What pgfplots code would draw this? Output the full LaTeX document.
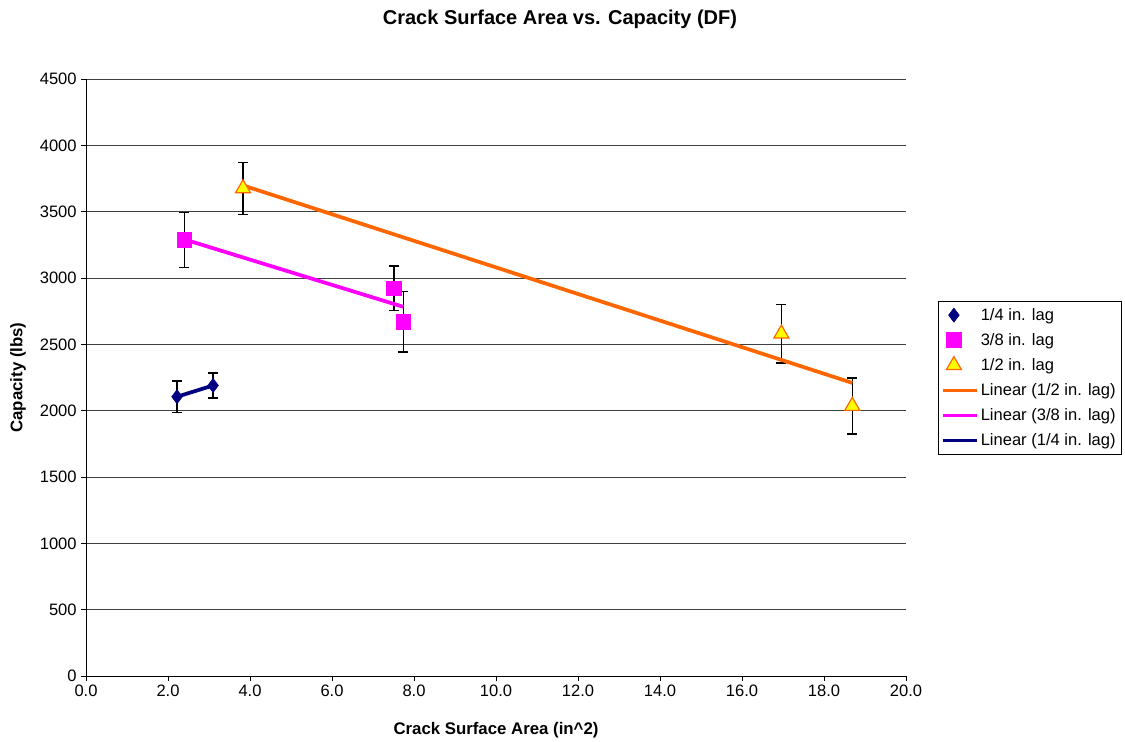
\documentclass[border=0pt]{standalone}
\usepackage{fontspec}
\setmainfont{Liberation Sans}
\usepackage{pgfplots}
\usepackage{pgfplotstable}
\pgfplotsset{compat=1.18}
\definecolor{navyc}{HTML}{000080}
\definecolor{magc}{HTML}{FF00FF}
\definecolor{orc}{HTML}{FF6600}
\definecolor{yelc}{HTML}{FFFF00}
\pgfplotsset{longline/.style={legend image code/.code={\draw[##1, line width=2.2pt] (0cm,0cm) -- (0.9cm,0cm);}}}
\pgfplotstableread{
x y e
2.22 2105 120
3.10 2190 95
}\tblA
\pgfplotstableread{
x y e
2.40 3286 207
7.51 2922 169
7.74 2670 228
}\tblB
\pgfplotstableread{
x y e
3.83 3675 195
16.96 2580 222
18.69 2035 211
}\tblC
\begin{document}
\begin{tikzpicture}
\path[use as bounding box] (0pt,0pt) rectangle (843.75pt,556.5pt);
\begin{axis}[
  at={(64.5pt,49.5pt)}, anchor=south west,
  scale only axis, width=615pt, height=447.75pt,
  xmin=0, xmax=20, ymin=0, ymax=4500,
  xtick={0,2,...,20}, ytick={0,500,...,4500},
  axis x line*=bottom, axis y line*=left,
  x axis line style={-}, y axis line style={-},
  tick align=outside, major tick length=3.5pt,
  tick style={black, line width=0.6pt},
  axis line style={black, line width=0.6pt},
  ymajorgrids, grid style={black!75, line width=0.5pt},
  /pgf/number format/assume math mode=true,
  xticklabel style={/pgf/number format/.cd, fixed, fixed zerofill, precision=1},
  yticklabel style={/pgf/number format/.cd, fixed, 1000 sep={}},
  tick label style={font=\fontsize{12.4}{14}\selectfont},
  title={\textbf{Crack Surface Area vs. Capacity (DF)}},
  title style={at={(0.5,1)}, anchor=center, xshift=48pt, yshift=38.5pt, font=\fontsize{15}{17}\selectfont},
  xlabel={\textbf{Crack Surface Area (in\textasciicircum 2)}},
  xlabel style={at={(0.5,0)}, anchor=center, yshift=-40.5pt, font=\fontsize{12.6}{14}\selectfont},
  ylabel={\textbf{Capacity (lbs)}},
  ylabel style={at={(0,0.5)}, anchor=center, rotate=0, yshift=51pt, font=\fontsize{12.6}{14}\selectfont},
  legend style={at={(1.039,0.628)}, anchor=north west, draw=black, line width=0.6pt,
    font=\fontsize{12.4}{14}\selectfont, row sep=4.3pt, inner xsep=2pt, inner ysep=3pt,
    nodes={inner xsep=2pt}},
  legend cell align=left,
  error bars/error bar style={black, line width=1.1pt},
  error bars/error mark options={black, rotate=90, mark size=3.75pt, line width=1.1pt},
]
\addplot[only marks, mark=diamond*, mark size=5.4pt, mark options={fill=navyc, draw=navyc, line width=0.3pt},
  error bars/.cd, y dir=both, y explicit] table[x=x, y=y, y error=e] {\tblA};
\addlegendentry{1/4 in. lag}
\addplot[only marks, mark=square*, mark size=5.5pt, mark options={fill=magc, draw=magc},
  error bars/.cd, y dir=both, y explicit] table[x=x, y=y, y error=e] {\tblB};
\addlegendentry{3/8 in. lag}
\addplot[only marks, mark=triangle*, mark size=6.5pt, mark options={fill=yelc, draw=orc, line width=0.9pt},
  error bars/.cd, y dir=both, y explicit] table[x=x, y=y, y error=e] {\tblC};
\addlegendentry{1/2 in. lag}
\addplot[orc, line width=2.8pt, mark=none, longline]
  table[x=x, y={create col/linear regression={y=y}}] {\tblC};
\addlegendentry{Linear (1/2 in. lag)}
\addplot[magc, line width=2.8pt, mark=none, longline]
  table[x=x, y={create col/linear regression={y=y}}] {\tblB};
\addlegendentry{Linear (3/8 in. lag)}
\addplot[navyc, line width=2.8pt, mark=none, longline]
  table[x=x, y={create col/linear regression={y=y}}] {\tblA};
\addlegendentry{Linear (1/4 in. lag)}
\end{axis}
\end{tikzpicture}
\end{document}
